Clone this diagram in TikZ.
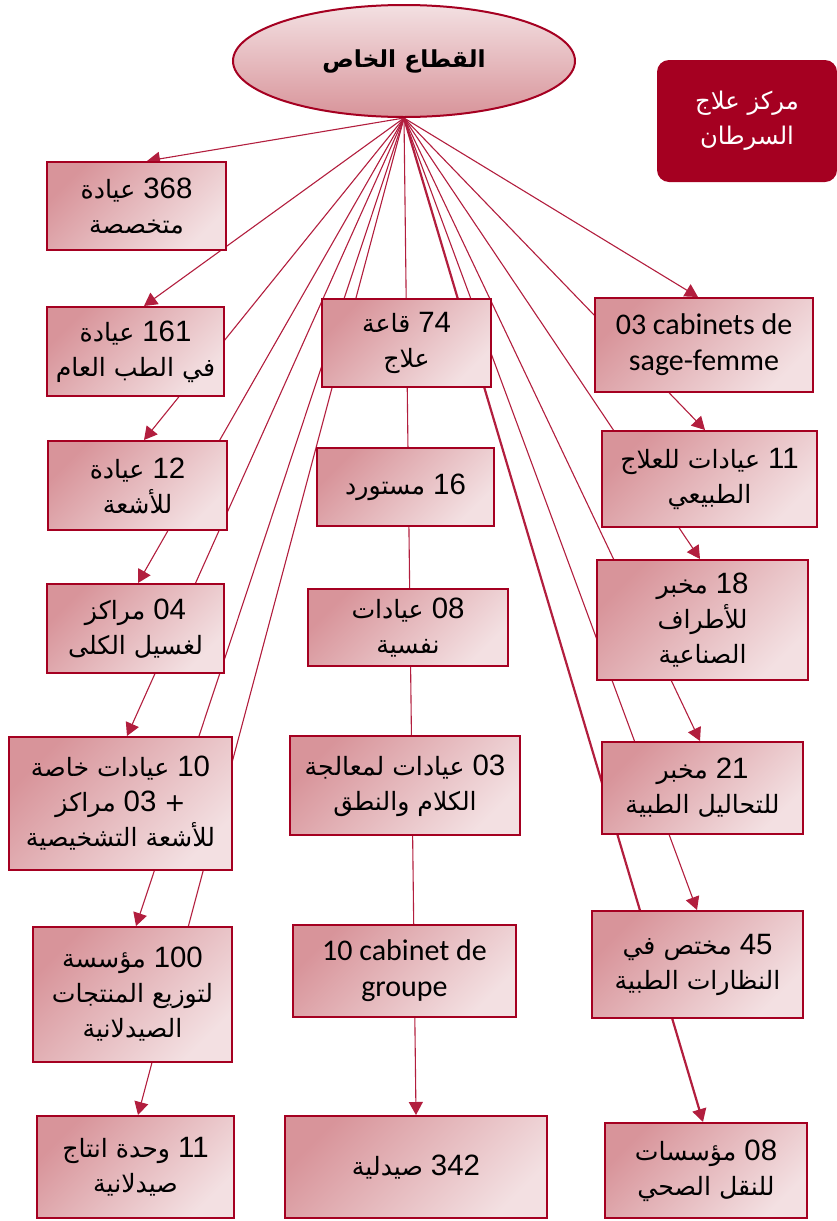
\documentclass[tikz,border=0pt]{standalone}
\usepackage{fontspec}
\setmainfont{Liberation Sans}
\newfontfamily\arabicfont[Script=Arabic,Scale=0.9]{DejaVu Sans}
\newfontfamily\latinfont[Scale=1.05]{Liberation Sans}
\newfontfamily\califont{Carlito}
\TeXXeTstate=1
\usetikzlibrary{arrows.meta,shapes.geometric}
\definecolor{dred}{RGB}{165,0,33}
\definecolor{lred}{RGB}{178,30,62}
\definecolor{boxdark}{RGB}{216,148,154}
\definecolor{boxlight}{RGB}{243,224,226}
\newcommand\artxt[1]{{\arabicfont\beginR #1\endR}}
\newcommand\numL[1]{\beginL{\latinfont #1}\endL}
\begin{document}
\begin{tikzpicture}[x=1pt,y=1pt,
  box/.style={draw=dred, line width=2pt, top color=boxdark, bottom color=boxlight, shading angle=45,
    inner sep=0pt, align=center, font=\fontsize{28}{35}\selectfont},
  latbox/.style={box, font=\califont\fontsize{30}{36}\selectfont},
  conn/.style={draw=lred, line width=1.1pt, -{Triangle[length=13pt,width=14pt]}},
  plain/.style={draw=lred, line width=1.1pt}]
\pgfdeclarelayer{bg}\pgfsetlayers{bg,main}
\useasboundingbox (0,0) rectangle (837,-1221);
% hub ellipse
\node[ellipse, draw=dred, line width=2pt, top color=boxlight, bottom color=boxdark,
  minimum width=342, minimum height=112, inner sep=0pt, font=\fontsize{26}{30}\selectfont]
  (hub) at (404,-61) {\artxt{\bfseries القطاع الخاص}};
% red box
\node[rounded corners=12pt, fill=dred, minimum width=180, minimum height=122, inner sep=0pt,
  align=center, text=white, font=\fontsize{27}{35}\selectfont] (cancer) at (747,-121)
  {\artxt{مركز علاج}\\\artxt{السرطان}};
% left column
\node[box, minimum width=179, minimum height=88] (b368) at (136.5,-206) {\artxt{\numL{368} عيادة}\\\artxt{متخصصة}};
\node[box, minimum width=177, minimum height=89] (b161) at (135.5,-351.5) {\artxt{\numL{161} عيادة}\\\artxt{في الطب العام}};
\node[box, minimum width=179, minimum height=89] (b12) at (137.5,-485.5) {\artxt{\numL{12} عيادة}\\\artxt{للأشعة}};
\node[box, minimum width=177, minimum height=89] (b04) at (135.5,-628.5) {\artxt{\numL{04} مراكز}\\\artxt{لغسيل الكلى}};
\node[box, minimum width=223, minimum height=133] (b10) at (120.5,-803.5) {\artxt{\numL{10} عيادات خاصة}\\\artxt{+ \numL{03} مراكز}\\\artxt{للأشعة التشخيصية}};
\node[box, minimum width=199, minimum height=135] (b100) at (132.5,-994.5) {\artxt{\numL{100} مؤسسة}\\\artxt{لتوزيع المنتجات}\\\artxt{الصيدلانية}};
\node[box, minimum width=197, minimum height=102] (b11w) at (135.5,-1167) {\artxt{\numL{11} وحدة انتاج}\\\artxt{صيدلانية}};
% middle column
\node[box, minimum width=169, minimum height=88] (b74) at (406.5,-343) {\artxt{\numL{74} قاعة}\\\artxt{علاج}};
\node[box, minimum width=177, minimum height=78] (b16) at (405.5,-487) {\artxt{\numL{16} مستورد}};
\node[box, minimum width=200, minimum height=77] (b08) at (408,-627.5) {\artxt{\numL{08} عيادات}\\\artxt{نفسية}};
\node[box, minimum width=230, minimum height=99] (b03m) at (405,-785.5) {\artxt{\numL{03} عيادات لمعالجة}\\\artxt{الكلام والنطق}};
\node[latbox, minimum width=223, minimum height=92] (b10cab) at (404.5,-971) {10 cabinet de\\groupe};
\node[box, minimum width=262, minimum height=102] (b342) at (416,-1167) {\artxt{\numL{342} صيدلية}};
% right column
\node[latbox, minimum width=218, minimum height=94] (b03cab) at (704,-345) {03 cabinets de\\sage-femme};
\node[box, minimum width=215, minimum height=96] (b11r) at (709.5,-479) {\artxt{\numL{11} عيادات للعلاج}\\\artxt{الطبيعي}};
\node[box, minimum width=211, minimum height=120] (b18) at (702.5,-620) {\artxt{\numL{18} مخبر}\\\artxt{للأطراف}\\\artxt{الصناعية}};
\node[box, minimum width=201, minimum height=92] (b21) at (702.5,-788) {\artxt{\numL{21} مخبر}\\\artxt{للتحاليل الطبية}};
\node[box, minimum width=211, minimum height=107] (b45) at (697.5,-964.5) {\artxt{\numL{45} مختص في}\\\artxt{النظارات الطبية}};
\node[box, minimum width=202, minimum height=95] (b08r) at (706,-1170.5) {\artxt{\numL{08} مؤسسات}\\\artxt{للنقل الصحي}};
% connectors
\begin{pgfonlayer}{bg}
\draw[conn] (hub.south) -- ([xshift=10.5pt]b368.north);
\draw[conn] (hub.south) -- ([xshift=8.5pt]b161.north);
\draw[conn] (hub.south) -- ([xshift=6.5pt]b12.north);
\draw[conn] (hub.south) -- ([xshift=2.5pt]b04.north);
\draw[conn] (hub.south) -- ([xshift=6.5pt]b10.north);
\draw[conn] (hub.south) -- ([xshift=3.5pt]b100.north);
\draw[conn] (hub.south) -- ([xshift=2.5pt]b11w.north);
\draw[conn] (hub.south) -- (b342.north);
\draw[conn] (hub.south) -- ([xshift=-6pt]b03cab.north);
\draw[conn] (hub.south) -- ([xshift=-4.5pt]b11r.north);
\draw[conn] (hub.south) -- ([xshift=-2.5pt]b18.north);
\draw[conn] (hub.south) -- ([xshift=-2.5pt]b21.north);
\draw[conn] (hub.south) -- ([xshift=-0.5pt]b45.north);
\draw[conn, line width=2.2pt] (hub.south) -- ([xshift=-3pt]b08r.north);
\end{pgfonlayer}
\end{tikzpicture}
\end{document}
